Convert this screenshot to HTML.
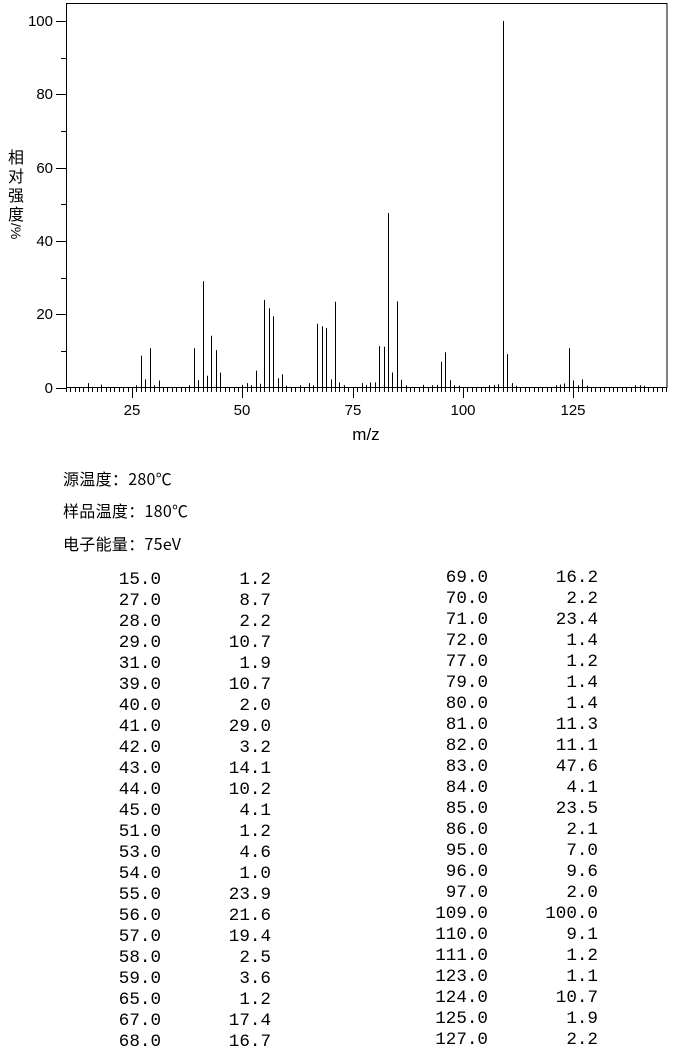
<!DOCTYPE html>
<html><head><meta charset="utf-8"><style>
body{margin:0;background:#fff;width:680px;height:1049px;overflow:hidden;position:relative;font-family:"Liberation Sans","Noto Sans CJK SC",sans-serif}
.h{position:absolute;left:63px;font-size:16px;font-family:"Noto Sans CJK SC","Liberation Sans",sans-serif;color:#000;letter-spacing:0.3px}
.t{position:absolute;font-family:"Liberation Mono",monospace;font-size:17.6px;text-align:right;line-height:21px;white-space:pre;color:#000}
</style></head><body>
<svg id="s" width="680" height="450" style="position:absolute;left:0;top:0" xmlns="http://www.w3.org/2000/svg">
<rect x="66.5" y="3.5" width="600.5" height="384" fill="none" stroke="#000" stroke-width="1"/>
<g id="g" stroke="#000" stroke-width="1"></g>
<g font-family="Liberation Sans,sans-serif" font-size="15" fill="#000" text-anchor="end">
<text x="53" y="26">100</text><text x="53" y="99">80</text><text x="53" y="173">60</text><text x="53" y="246">40</text><text x="53" y="319">20</text><text x="53" y="393">0</text>
</g>
<g font-family="Liberation Sans,sans-serif" font-size="15" fill="#000" text-anchor="middle">
<text x="132" y="415">25</text><text x="242" y="415">50</text><text x="353" y="415">75</text><text x="463" y="415">100</text><text x="573" y="415">125</text>
<text x="366" y="440" font-size="17">m/z</text>
</g>
<g font-family="Noto Sans CJK SC,sans-serif" font-size="16" fill="#000" text-anchor="middle">
<text x="16" y="163">相</text><text x="16" y="182">对</text><text x="16" y="201">强</text><text x="16" y="220">度</text>
<text x="16" y="223" transform="rotate(90 16 223)" font-family="Liberation Sans,sans-serif" font-size="14" text-anchor="start" dy="5">/%</text>
</g>
</svg>
<div class="h" style="top:466px">源温度：280℃</div>
<div class="h" style="top:498px">样品温度：180℃</div>
<div class="h" style="top:531px">电子能量：75eV</div>
<div class="t" style="left:60px;top:570px;width:101px">15.0
27.0
28.0
29.0
31.0
39.0
40.0
41.0
42.0
43.0
44.0
45.0
51.0
53.0
54.0
55.0
56.0
57.0
58.0
59.0
65.0
67.0
68.0</div>
<div class="t" style="left:170px;top:570px;width:101px">1.2
8.7
2.2
10.7
1.9
10.7
2.0
29.0
3.2
14.1
10.2
4.1
1.2
4.6
1.0
23.9
21.6
19.4
2.5
3.6
1.2
17.4
16.7</div>
<div class="t" style="left:380px;top:568px;width:108px">69.0
70.0
71.0
72.0
77.0
79.0
80.0
81.0
82.0
83.0
84.0
85.0
86.0
95.0
96.0
97.0
109.0
110.0
111.0
123.0
124.0
125.0
127.0</div>
<div class="t" style="left:490px;top:568px;width:108px">16.2
2.2
23.4
1.4
1.2
1.4
1.4
11.3
11.1
47.6
4.1
23.5
2.1
7.0
9.6
2.0
100.0
9.1
1.2
1.1
10.7
1.9
2.2</div>
<script>
var g=document.getElementById('g'),h='';
function X(m){return 21.7+m*4.413}
function Y(v){return 387.5-v*3.665}
for(var v=0;v<=100;v+=10){var y=Math.round(Y(v))+0.5;h+='<line x1="'+(v%20==0?56:61)+'" y1="'+y+'" x2="66.5" y2="'+y+'"/>';}
for(var m=10;m<=146;m++){var x=Math.round(X(m))+0.5;h+='<line x1="'+x+'" y1="387.5" x2="'+x+'" y2="'+(m%25==0?398:392)+'"/>';}
var d=[[15,1.2],[27,8.7],[28,2.2],[29,10.7],[31,1.9],[39,10.7],[40,2.0],[41,29.0],[42,3.2],[43,14.1],[44,10.2],[45,4.1],[51,1.2],[53,4.6],[54,1.0],[55,23.9],[56,21.6],[57,19.4],[58,2.5],[59,3.6],[65,1.2],[67,17.4],[68,16.7],[69,16.2],[70,2.2],[71,23.4],[72,1.4],[77,1.2],[79,1.4],[80,1.4],[81,11.3],[82,11.1],[83,47.6],[84,4.1],[85,23.5],[86,2.1],[95,7.0],[96,9.6],[97,2.0],[109,100],[110,9.1],[111,1.2],[123,1.1],[124,10.7],[125,1.9],[127,2.2],
[18,0.8],[26,0.6],[30,0.6],[38,0.6],[50,0.7],[52,0.6],[60,0.5],[63,0.6],[66,0.6],[73,0.6],[78,0.7],[87,0.6],[91,0.7],[93,0.6],[94,0.7],[98,0.6],[99,0.5],[106,0.6],[107,0.7],[108,0.9],[112,0.5],[121,0.6],[122,0.8],[126,0.6],[128,0.5],[139,0.6],[140,0.6],[141,0.5]];
d.forEach(function(p){var x=Math.round(X(p[0]))+0.5;h+='<line x1="'+x+'" y1="387.5" x2="'+x+'" y2="'+Y(p[1]).toFixed(1)+'"/>';});
g.innerHTML=h;
</script>
</body></html>
